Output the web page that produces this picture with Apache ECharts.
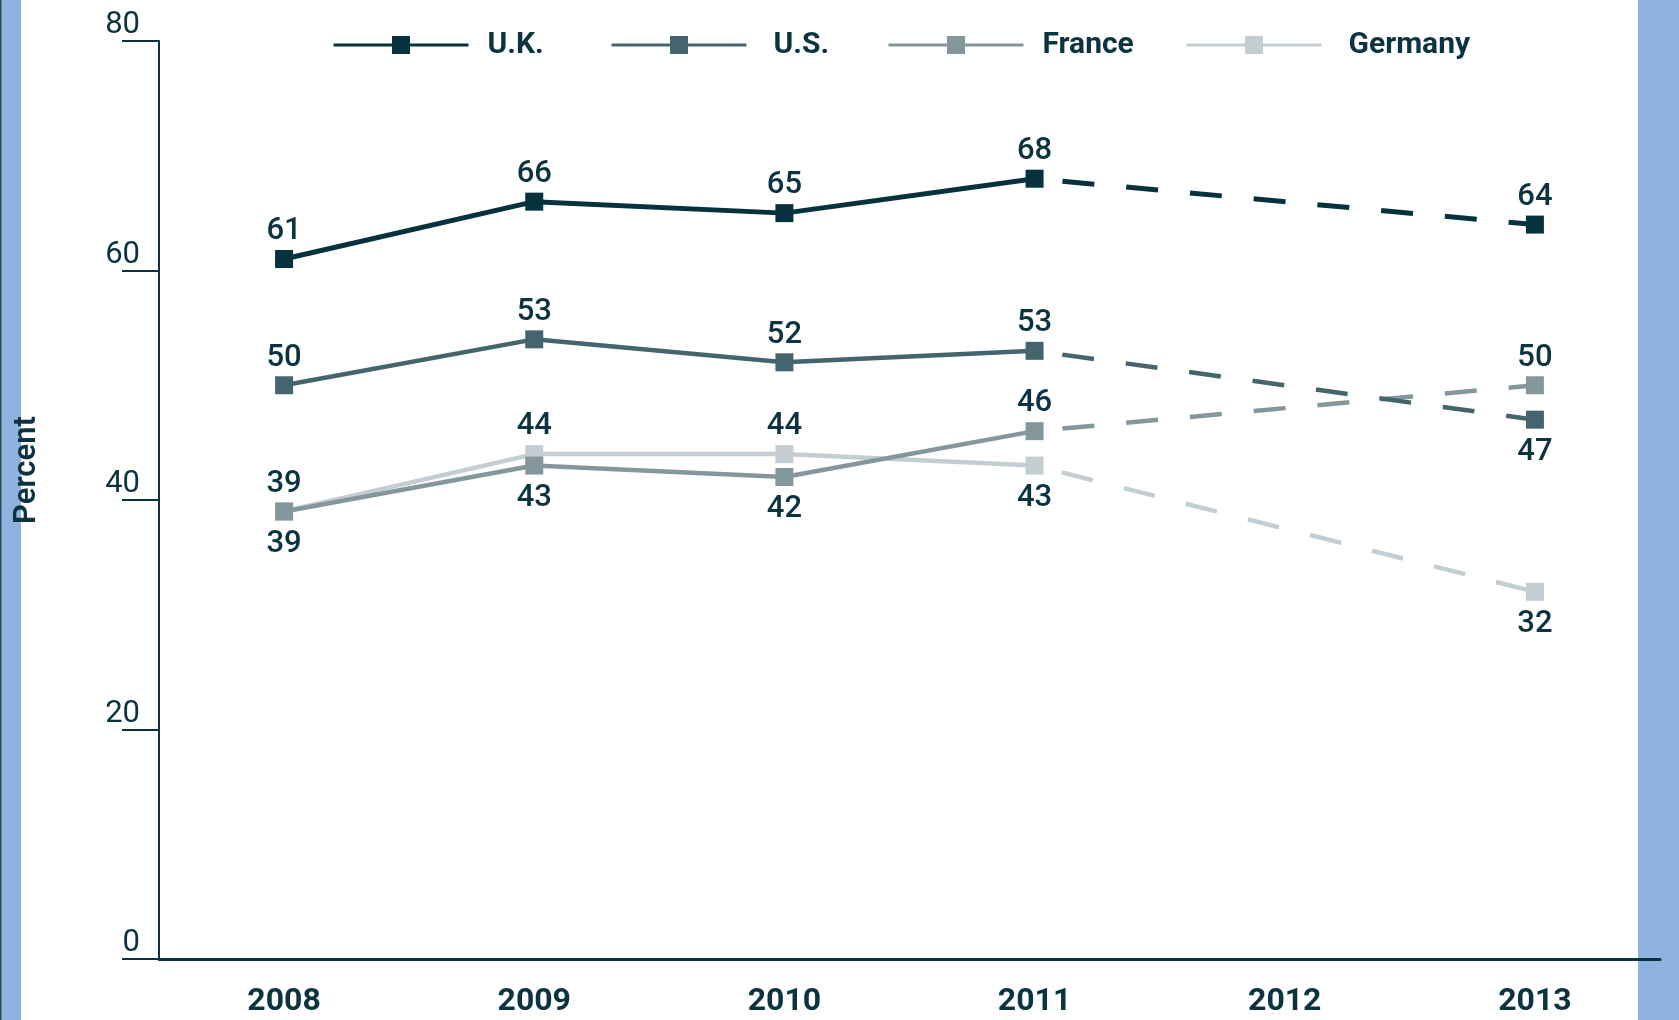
<!DOCTYPE html>
<html>
<head>
<meta charset="utf-8">
<script src="https://cdn.jsdelivr.net/npm/echarts@6/dist/echarts.min.js"></script>
<style>
  html, body { margin: 0; padding: 0; background: #fff; }
  #chart { width: 1679px; height: 1020px; }
</style>
</head>
<body>
<div id="chart"></div>
<script>
const years = ["2008", "2009", "2010", "2011", "2012", "2013"];
const ukValues = [61, 66, 65, 68, null, 64];
const usValues = [50, 54, 52, 53, null, 47];
const franceValues = [39, 43, 42, 46, null, 50];
const germanyValues = [39, 44, 44, 43, null, 32];
// printed labels (U.S. 2009 point sits a bit higher than its label)
const usLabels = [50, 53, 52, 53, null, 47];

const TEXT = "#0b3340";
const FONT = "Roboto, 'Liberation Sans', Arial, sans-serif";

const countries = [
  { name: "Germany", values: germanyValues, labels: germanyValues, color: "#c4cdd1", width: 4.5,
    sides: ["top", "top", "top", "bottom", null, "bottom"] },
  { name: "France", values: franceValues, labels: franceValues, color: "#84979c", width: 4.5,
    sides: ["bottom", "bottom", "bottom", "top", null, "top"] },
  { name: "U.S.", values: usValues, labels: usLabels, color: "#44646e", width: 4.5,
    sides: ["top", "top", "top", "top", null, "bottom"] },
  { name: "U.K.", values: ukValues, labels: ukValues, color: "#06323e", width: 5,
    sides: ["top", "top", "top", "top", null, "top"] },
];

function item(c, i, showLabel) {
  const side = c.sides[i];
  return {
    value: c.values[i],
    symbol: showLabel ? "rect" : "none",
    label: {
      show: showLabel,
      position: side,
      distance: side === "top" ? 3 : 8,
      formatter: String(c.labels[i]),
    },
  };
}

const labelStyle = { color: TEXT, fontSize: 31, fontWeight: 500, fontFamily: FONT };

const solidSeries = countries.map((c) => ({
  name: c.name,
  type: "line",
  symbol: "rect",
  symbolSize: 18,
  color: c.color,
  lineStyle: { width: c.width, color: c.color },
  itemStyle: { color: c.color },
  label: labelStyle,
  data: c.values.map((v, i) => (i <= 3 ? item(c, i, true) : null)),
  animation: false,
}));

const dashedSeries = countries.map((c) => ({
  name: c.name,
  type: "line",
  symbol: "rect",
  symbolSize: 18,
  connectNulls: true,
  color: c.color,
  lineStyle: { width: c.width, color: c.color, type: [32, 32], dashOffset: 36 },
  itemStyle: { color: c.color },
  label: labelStyle,
  data: c.values.map((v, i) => (i === 3 ? item(c, i, false) : i === 5 ? item(c, i, true) : null)),
  animation: false,
}));

const legendSpots = [
  { name: "U.K.", left: 332, pad: 14 },
  { name: "U.S.", left: 610, pad: 22 },
  { name: "France", left: 887, pad: 14 },
  { name: "Germany", left: 1185, pad: 22 },
];

const chart = echarts.init(document.getElementById("chart"));
chart.setOption({
  backgroundColor: "#fff",
  animation: false,
  grid: { left: 159, right: 19, top: 41, bottom: 61 },
  legend: legendSpots.map((l) => ({
    data: [l.name],
    left: l.left,
    top: 30,
    itemWidth: 135,
    itemHeight: 22.5,
    padding: 0,
    selectedMode: false,
    lineStyle: { width: 3 },
    textStyle: {
      color: TEXT,
      fontFamily: FONT,
      fontWeight: "bold",
      fontSize: 30,
      padding: [0, 0, 0, l.pad],
    },
  })),
  xAxis: {
    type: "category",
    data: years,
    boundaryGap: true,
    axisLine: { lineStyle: { color: TEXT, width: 3 } },
    axisTick: { show: false },
    axisLabel: { color: TEXT, fontSize: 32, fontWeight: "bold", fontFamily: FONT, margin: 27 },
  },
  yAxis: {
    type: "value",
    min: 0,
    max: 80,
    interval: 20,
    splitLine: { show: false },
    axisLine: { show: true, lineStyle: { color: TEXT, width: 2 } },
    axisTick: { show: true, length: 37, lineStyle: { color: TEXT, width: 2 } },
    axisLabel: {
      color: TEXT,
      fontSize: 31,
      fontFamily: FONT,
      margin: 19,
      verticalAlign: "bottom",
    },
  },
  graphic: {
    elements: [
      { type: "rect", z: -10, shape: { x: 0, y: 0, width: 21, height: 1020 }, style: { fill: "#8fb3e1" } },
      { type: "rect", z: -10, shape: { x: 0, y: 0, width: 1.5, height: 1020 }, style: { fill: "#2a4a5a" } },
      { type: "rect", z: -10, shape: { x: 1638, y: 0, width: 41, height: 1020 }, style: { fill: "#8fb3e1" } },
      {
        type: "text",
        x: 27,
        y: 470,
        rotation: Math.PI / 2,
        style: {
          text: "Percent",
          fill: TEXT,
          font: "600 31px Roboto, 'Liberation Sans', Arial, sans-serif",
          align: "center",
          verticalAlign: "middle",
        },
      },
    ],
  },
  series: solidSeries.concat(dashedSeries),
});
</script>
</body>
</html>
